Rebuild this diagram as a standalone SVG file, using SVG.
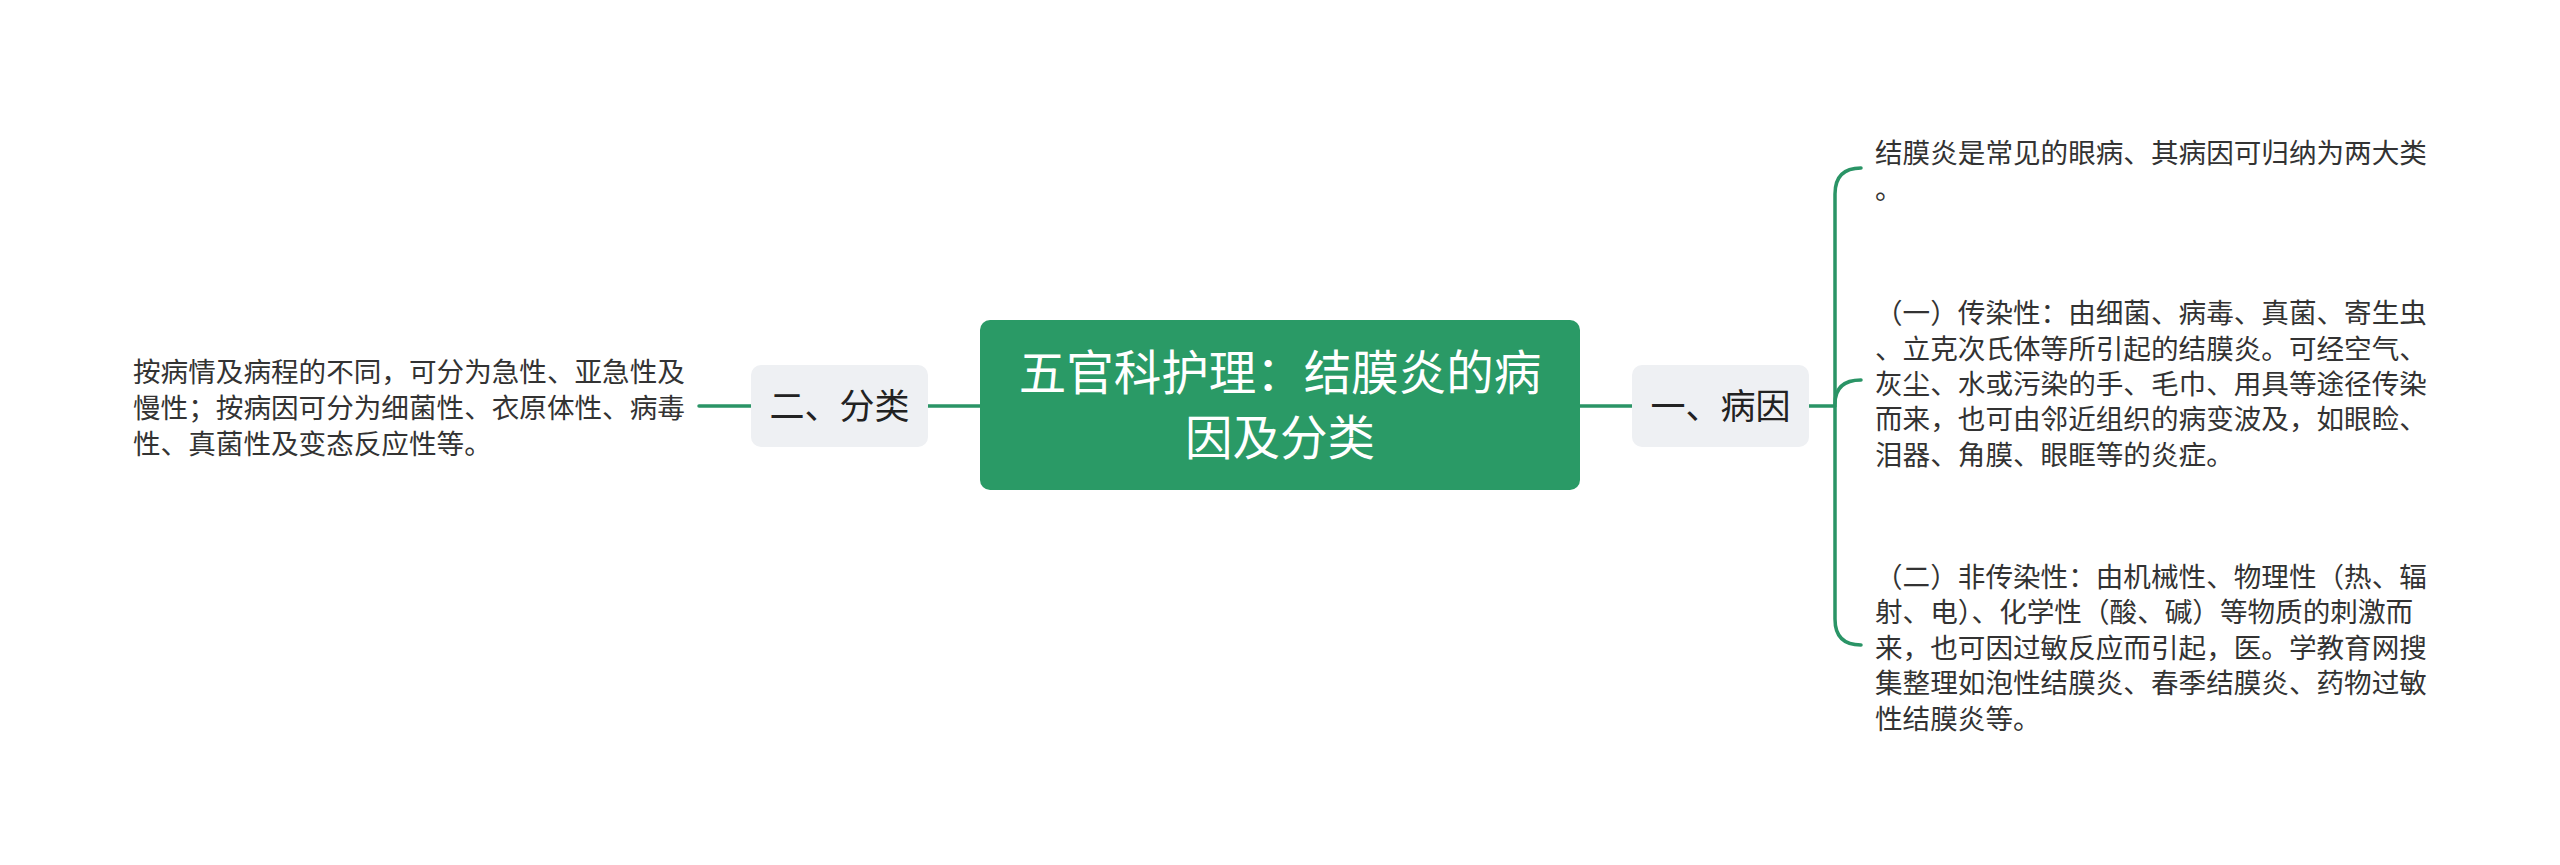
<svg xmlns="http://www.w3.org/2000/svg" width="2560" height="865" viewBox="0 0 2560 865">
<style>
.conn{fill:none;stroke:#2a9466;stroke-width:3.5;stroke-linecap:round}
.sub{fill:#eef0f3}
.t{font-family:"Noto Sans CJK SC","Noto Sans",sans-serif;fill:#333}
.small{font-size:27.6px}
.nodet{font-size:35px;text-anchor:middle;fill:#222}
.root{font-family:"Noto Sans CJK SC","Noto Sans",sans-serif;font-size:47.5px;fill:#fff;text-anchor:middle}
</style>
<rect width="2560" height="865" fill="#fff"/>
<g id="connectors">
<line class="conn" x1="928" y1="406" x2="980" y2="406"/>
<line class="conn" x1="699" y1="406" x2="751" y2="406"/>
<line class="conn" x1="1580" y1="406" x2="1632" y2="406"/>
<line class="conn" x1="1809" y1="406" x2="1835" y2="406"/>
<path class="conn" d="M1861 168 Q1835 168 1835 194 L1835 619 Q1835 645 1861 645"/>
<path class="conn" d="M1835 404 Q1835 380 1861 380"/>
</g>
<g id="root">
<rect x="980" y="320" width="600" height="170" rx="10" fill="#2a9a66"/>
<text class="root" x="1280" y="390">五官科护理：结膜炎的病</text>
<text class="root" x="1280" y="455">因及分类</text>
</g>
<g id="node-bingyin">
<rect class="sub" x="1632" y="365" width="177" height="82" rx="10"/>
<text class="t nodet" x="1720.5" y="419">一、病因</text>
</g>
<g id="node-fenlei">
<rect class="sub" x="751" y="365" width="177" height="82" rx="10"/>
<text class="t nodet" x="839.5" y="419">二、分类</text>
</g>
<g id="leaf-fenlei">
<text class="t small" x="133" y="382">按病情及病程的不同，可分为急性、亚急性及</text>
<text class="t small" x="133" y="418">慢性；按病因可分为细菌性、衣原体性、病毒</text>
<text class="t small" x="133" y="454">性、真菌性及变态反应性等。</text>
</g>
<g id="leaf-1">
<text class="t small" x="1875" y="163">结膜炎是常见的眼病、其病因可归纳为两大类</text>
<text class="t small" x="1875" y="199">。</text>
</g>
<g id="leaf-2">
<text class="t small" x="1875" y="323">（一）传染性：由细菌、病毒、真菌、寄生虫</text>
<text class="t small" x="1875" y="359">、立克次氏体等所引起的结膜炎。可经空气、</text>
<text class="t small" x="1875" y="394">灰尘、水或污染的手、毛巾、用具等途径传染</text>
<text class="t small" x="1875" y="429">而来，也可由邻近组织的病变波及，如眼睑、</text>
<text class="t small" x="1875" y="465">泪器、角膜、眼眶等的炎症。</text>
</g>
<g id="leaf-3">
<text class="t small" x="1875" y="587">（二）非传染性：由机械性、物理性（热、辐</text>
<text class="t small" x="1875" y="622">射、电）、化学性（酸、碱）等物质的刺激而</text>
<text class="t small" x="1875" y="658">来，也可因过敏反应而引起，医。学教育网搜</text>
<text class="t small" x="1875" y="693">集整理如泡性结膜炎、春季结膜炎、药物过敏</text>
<text class="t small" x="1875" y="729">性结膜炎等。</text>
</g>
</svg>
